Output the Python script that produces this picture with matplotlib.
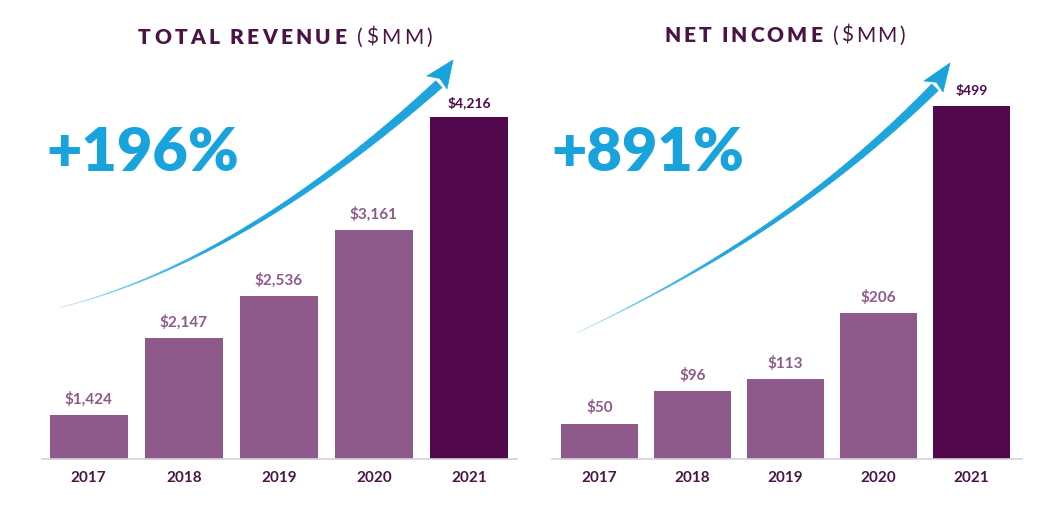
import numpy as np
import matplotlib.pyplot as plt
from matplotlib.collections import PolyCollection
from matplotlib.patches import Polygon

years = ['2017', '2018', '2019', '2020', '2021']
revenue = [1424, 2147, 2536, 3161, 4216]
revenue_labels = ['$1,424', '$2,147', '$2,536', '$3,161', '$4,216']
income = [50, 96, 113, 206, 499]
income_labels = ['$50', '$96', '$113', '$206', '$499']

W, H = 1044, 514
LIGHT = '#8e5a8c'
DARK = '#52084c'
TITLE = '#4a1545'
BLUE = '#19a3dd'

plt.rcParams['font.family'] = ['Lato', 'DejaVu Sans']
fig = plt.figure(figsize=(W / 100, H / 100), dpi=100)
renderer = fig.canvas.get_renderer()


def fx(x):
    return x / W


def fy(y):
    return 1 - y / H


def bar_panel(rect, vals, labels, ylim, xlim, width):
    ax = fig.add_axes([fx(rect[0]), fy(rect[1] + rect[3]), rect[2] / W, rect[3] / H])
    x = np.arange(len(vals))
    cols = [LIGHT] * (len(vals) - 1) + [DARK]
    ax.bar(x, [v - ylim[0] for v in vals], bottom=ylim[0], width=width, color=cols)
    ax.set_ylim(*ylim)
    ax.set_xlim(*xlim)
    for i, (v, lab) in enumerate(zip(vals, labels)):
        last = i == len(vals) - 1
        ax.annotate(lab, (i, v), xytext=(0, 6), textcoords='offset points',
                    ha='center', va='bottom', fontsize=10 if last else 11,
                    fontweight='bold', color=DARK if last else LIGHT)
    ax.set_xticks(x)
    ax.set_xticklabels(years, fontsize=11, fontweight='bold', color=TITLE)
    ax.tick_params(axis='x', length=0, pad=9)
    ax.set_yticks([])
    for s in ['top', 'right', 'left']:
        ax.spines[s].set_visible(False)
    ax.spines['bottom'].set_color('#d9d0d8')
    ax.spines['bottom'].set_linewidth(1.2)
    ax.patch.set_alpha(0)
    return ax


bar_panel((42, 100, 475, 359), revenue, revenue_labels, (1012, 4377), (-0.49, 4.505), 0.82)
bar_panel((552, 100, 470, 359), income, income_labels, (0, 507), (-0.51, 4.54), 0.83)


def arrow(path_pts, tip, barbs, wmax):
    # shaft follows a cubic y(x) through a few points traced on the curve
    path_pts = np.array(path_pts, float)
    coef = np.polyfit(path_pts[:, 0], path_pts[:, 1], 3)
    xs = np.linspace(path_pts[0, 0], path_pts[-1, 0], 200)
    pts = np.column_stack([xs, np.polyval(coef, xs)])
    seg = np.linalg.norm(np.diff(pts, axis=0), axis=1)
    s = np.concatenate([[0], np.cumsum(seg)])
    t = s / s[-1]
    d = np.gradient(pts, axis=0)
    d /= np.linalg.norm(d, axis=1)[:, None]
    n = np.column_stack([-d[:, 1], d[:, 0]])
    w = (0.4 + wmax * t ** 1.4) / 2
    left = pts + n * w[:, None]
    right = pts - n * w[:, None]
    quads, cols = [], []
    for i in range(len(pts) - 1):
        q = [left[i], left[i + 1], right[i + 1], right[i]]
        quads.append([(fx(a), fy(b)) for a, b in q])
        a = min(1.0, 0.15 + t[i] * 2.2)
        cols.append((0.098, 0.64, 0.867, a))
    pc = PolyCollection(quads, facecolors=cols, edgecolors=cols, linewidths=0.3,
                        transform=fig.transFigure)
    fig.add_artist(pc)
    tip = np.array(tip, float)
    b1, b2 = np.array(barbs, float)
    notch = (b1 + b2) / 2 + (tip - (b1 + b2) / 2) * 0.18
    head = [tip, b1, notch, b2]
    fig.add_artist(Polygon([(fx(a), fy(b)) for a, b in head], closed=True,
                           facecolor=BLUE, edgecolor=BLUE, lw=0.5,
                           transform=fig.transFigure))


arrow([(60, 308), (150, 275), (217, 247), (283, 207), (350, 155), (403, 117), (439, 84)],
      (453, 60), [(427, 76), (447, 89)], 9)
arrow([(577, 333), (660, 290), (727, 253), (793, 207), (860, 157), (910, 110), (935, 88)],
      (950, 63), [(924, 81), (943, 92)], 9)


def spaced_text(x0, x1, y, s, **kw):
    # draw text letter by letter so that it spans x0..x1 (pixels)
    widths = []
    for ch in s:
        if ch == ' ':
            widths.append(kw['fontsize'] * 0.25)
            continue
        tt = fig.text(0, 0, ch, **kw)
        widths.append(tt.get_window_extent(renderer).width)
        tt.remove()
    gap = (x1 - x0 - sum(widths)) / (len(s) - 1)
    x = x0
    for ch, w in zip(s, widths):
        if ch != ' ':
            fig.text(fx(x), fy(y), ch, ha='left', va='center', **kw)
        x += w + gap


spaced_text(138, 346, 38, 'TOTAL REVENUE', fontsize=15, fontweight='heavy', color=TITLE)
spaced_text(357, 432, 38, '($MM)', fontsize=15, color=TITLE)
spaced_text(664, 822, 36, 'NET INCOME', fontsize=15, fontweight='heavy', color=TITLE)
spaced_text(833, 905, 36, '($MM)', fontsize=15, color=TITLE)

fig.text(fx(46), fy(153), '+196%', ha='left', va='center', fontsize=44,
         fontweight='heavy', color=BLUE)
fig.text(fx(551), fy(153), '+891%', ha='left', va='center', fontsize=44,
         fontweight='heavy', color=BLUE)

fig.savefig('out.png', dpi=100, facecolor='white')
